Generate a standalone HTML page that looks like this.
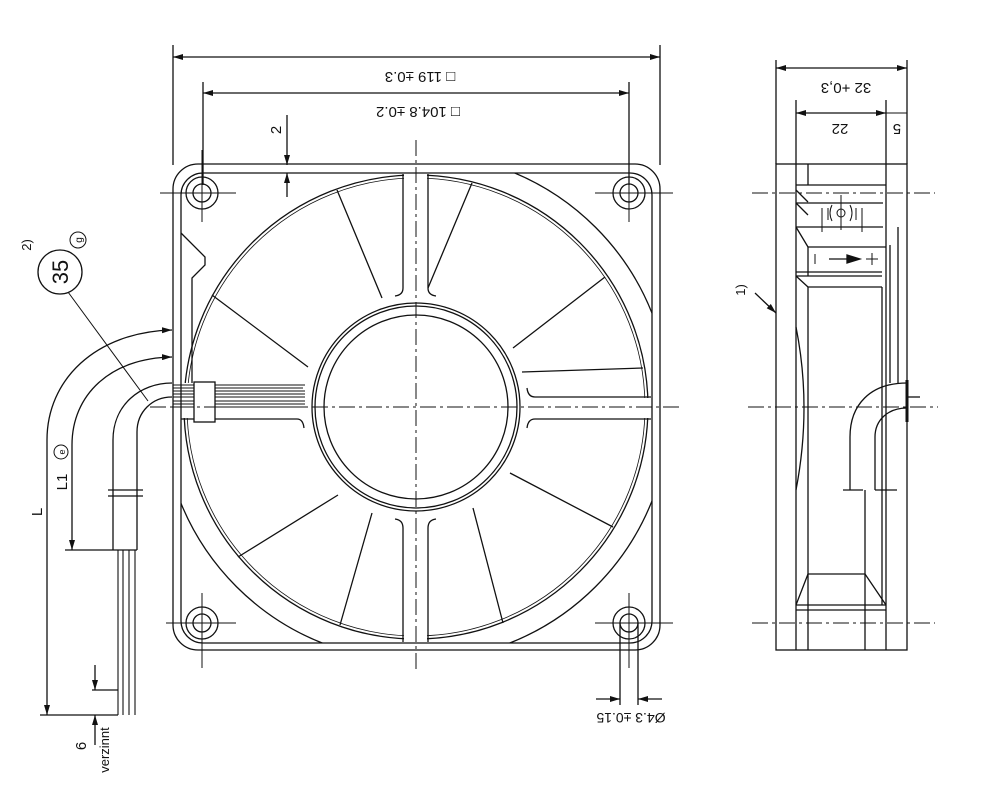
<!DOCTYPE html>
<html><head><meta charset="utf-8"><style>
html,body{margin:0;padding:0;background:#fff;}
svg{display:block;}
text{font-family:"Liberation Sans",sans-serif;fill:#111;}
</style></head><body>
<svg width="1000" height="787" viewBox="0 0 1000 787" xmlns="http://www.w3.org/2000/svg">
<defs>
<clipPath id="inner"><rect x="181" y="173" width="471" height="470" rx="22"/></clipPath>
<clipPath id="big"><path d="M416,173 H652 V643 H181 V407 H416 Z"/></clipPath>
<marker id="ar" viewBox="0 0 10 6" refX="10" refY="3" markerWidth="10" markerHeight="6" orient="auto-start-reverse" markerUnits="userSpaceOnUse"><path d="M0,0 L10,3 L0,6z" fill="#111"/></marker>
</defs>
<g fill="none" stroke="#111" stroke-width="1.3">
<!-- top dimensions -->
<line x1="173" y1="45" x2="173" y2="165"/><line x1="660" y1="45" x2="660" y2="165"/>
<line x1="173" y1="57" x2="660" y2="57" marker-start="url(#ar)" marker-end="url(#ar)"/>
<line x1="203" y1="82" x2="203" y2="185"/><line x1="629" y1="82" x2="629" y2="185"/>
<line x1="203" y1="93" x2="629" y2="93" marker-start="url(#ar)" marker-end="url(#ar)"/>
<line x1="287" y1="115" x2="287" y2="165" marker-end="url(#ar)"/>
<line x1="287" y1="197" x2="287" y2="173" marker-end="url(#ar)"/>
<!-- frame -->
<rect x="173" y="164" width="487" height="486" rx="25"/>
<rect x="181" y="173" width="471" height="470" rx="22"/>
<!-- venturi -->
<g clip-path="url(#inner)">
<g clip-path="url(#big)"><circle cx="416" cy="407" r="254"/></g>
<circle cx="416" cy="407" r="232"/>
<circle cx="416" cy="407" r="229" stroke-width="0.8"/>
</g>
<!-- strut masks -->
<g fill="#fff" stroke="none">
<rect x="404" y="174" width="23" height="125"/>
<rect x="404" y="515" width="23" height="127"/>
<rect x="530" y="398" width="121" height="20"/>
<rect x="182" y="383" width="125" height="35"/>
</g>
<!-- holes -->
<g>
<circle cx="202" cy="193" r="16"/><circle cx="202" cy="193" r="9"/>
<circle cx="629" cy="193" r="16"/><circle cx="629" cy="193" r="9"/>
<circle cx="202" cy="623" r="16"/><circle cx="202" cy="623" r="9"/>
<circle cx="629" cy="623" r="16"/><circle cx="629" cy="623" r="9"/>
</g>
<g stroke-width="1">
<line x1="160" y1="193" x2="236" y2="193"/><line x1="202" y1="150" x2="202" y2="222"/>
<line x1="595" y1="193" x2="673" y2="193"/><line x1="629" y1="150" x2="629" y2="222"/>
<line x1="166" y1="623" x2="236" y2="623"/><line x1="202" y1="593" x2="202" y2="668"/>
<line x1="595" y1="623" x2="673" y2="623"/><line x1="629" y1="593" x2="629" y2="668"/>
</g>
<!-- hub -->
<circle cx="416" cy="407" r="104" fill="#fff"/>
<circle cx="416" cy="407" r="101"/>
<circle cx="416" cy="407" r="92"/>
<!-- struts -->
<path d="M403,174 V288 Q403,295 395,296 M428,174 V288 Q428,295 436,296"/>
<path d="M403,642 V528 Q403,520 395,519 M428,642 V528 Q428,520 436,519"/>
<path d="M522,372 L643,368 M651,397 H535 Q528,397 527,388 M651,419 H535 Q528,419 527,428"/>
<path d="M181,419 H297 Q303,419 304,428"/>
<!-- blades -->
<path d="M337,190 L382,298 M212,295 L308,367 M472,183 L428,288 M605,277 L513,348 M510,473 L613,527 M473,508 L503,623 M372,513 L340,625 M338,495 L238,557"/>
<!-- left frame detail -->
<path d="M181,233 L205,257 L205,265 L192,278 L192,383"/>
<!-- cable on fan -->
<g stroke-width="1">
<line x1="173" y1="385" x2="305" y2="385"/><line x1="173" y1="388" x2="303" y2="388"/>
<line x1="173" y1="391" x2="305" y2="391"/><line x1="173" y1="394" x2="305" y2="394"/>
<line x1="173" y1="397" x2="305" y2="397"/><line x1="173" y1="401" x2="305" y2="401"/>
<line x1="173" y1="404" x2="305" y2="404"/><line x1="173" y1="407" x2="305" y2="407"/>
</g>
<rect x="194" y="382" width="21" height="40" fill="#fff"/>
<!-- center lines -->
<g stroke-width="1" stroke-dasharray="16 4 3 4">
<line x1="416" y1="140" x2="416" y2="672"/>
<line x1="150" y1="407" x2="682" y2="407"/>
<line x1="748" y1="407" x2="938" y2="407"/>
<line x1="752" y1="193" x2="935" y2="193"/>
<line x1="752" y1="623" x2="935" y2="623"/>
</g>
<!-- hole dim -->
<line x1="620" y1="623" x2="620" y2="705"/><line x1="638" y1="623" x2="638" y2="705"/>
<line x1="596" y1="699" x2="620" y2="699" marker-end="url(#ar)"/>
<line x1="662" y1="699" x2="638" y2="699" marker-end="url(#ar)"/>
<!-- left cable -->
<path d="M172,383 C140,383 113,405 113,440 V550"/>
<path d="M172,397 C152,397 137,412 137,432 V550"/>
<path d="M108,490 H143 M108,496 H143"/>
<line x1="65" y1="550" x2="137" y2="550"/>
<path d="M118,550 V715 M123,550 V715 M129,550 V715 M135,550 V715" stroke-width="1.1"/>
<path d="M47,715 V440 C47,380 95,332 172,330" marker-start="url(#ar)" marker-end="url(#ar)"/>
<path d="M72,550 V445 C72,395 110,358 172,357" marker-start="url(#ar)" marker-end="url(#ar)"/>
<line x1="40" y1="715" x2="118" y2="715"/><line x1="92" y1="690" x2="118" y2="690"/>
<line x1="95" y1="665" x2="95" y2="690" marker-end="url(#ar)"/>
<line x1="95" y1="745" x2="95" y2="715" marker-end="url(#ar)"/>
<circle cx="60" cy="272" r="22"/>
<circle cx="78" cy="240" r="8" stroke-width="1"/>
<circle cx="61" cy="452" r="7" stroke-width="1"/>
<line x1="68" y1="292" x2="148" y2="401" stroke-width="1"/>
<!-- side view -->
<line x1="776" y1="60" x2="776" y2="164"/><line x1="907" y1="60" x2="907" y2="164"/>
<line x1="776" y1="68" x2="907" y2="68" marker-start="url(#ar)" marker-end="url(#ar)"/>
<line x1="796" y1="100" x2="796" y2="164"/><line x1="886" y1="100" x2="886" y2="164"/>
<line x1="796" y1="113" x2="886" y2="113" marker-start="url(#ar)" marker-end="url(#ar)"/>
<line x1="886" y1="113" x2="907" y2="113" stroke-width="1"/>
<rect x="776" y="164" width="131" height="486"/>
<line x1="796" y1="164" x2="796" y2="650"/><line x1="886" y1="164" x2="886" y2="650"/>
<line x1="808" y1="164" x2="808" y2="185"/><line x1="808" y1="247" x2="808" y2="276"/>
<line x1="808" y1="287" x2="808" y2="650"/><line x1="865" y1="574" x2="865" y2="650"/>
<path d="M796,185 H886 M796,203 H883 M796,227 H883 M808,247 H886 M796,272 H882 M796,276 H882 M808,287 H882 M796,605 H886 M796,610 H886 M808,574 H865"/>
<path d="M796,190 L808,202 M796,203 L808,215 M796,227 L808,247 M796,276 L808,287 M808,574 L796,605 M865,574 L886,605"/>
<path d="M882,287 V605 M890,245 V383 M898,227 V383"/>
<path d="M796,327 Q812,407 796,490"/>
<path d="M907,383 C870,383 850,405 850,437 V490 M907,408 C888,408 875,420 875,437 V490 M843,490 H863 M875,490 H897 M865,490 V574"/>
<line x1="907" y1="380" x2="907" y2="422" stroke-width="3"/>
<line x1="907" y1="397" x2="920" y2="397"/>
<path d="M822,208 V232 M862,208 V232 M828,208 V220 M856,208 V220 M841,195 V230" stroke-width="1"/>
<circle cx="841" cy="213" r="4" stroke-width="1"/>
<path d="M832,205 Q828,213 832,221 M850,205 Q854,213 850,221" stroke-width="1"/>
<line x1="829" y1="259" x2="847" y2="259" stroke-width="1.3"/>
<path d="M847,255 L860,259 L847,263z" fill="#111"/>
<path d="M866,259 H878 M872,253 V265 M815,254 V264" stroke-width="1"/>
<line x1="755" y1="293" x2="776" y2="313" marker-end="url(#ar)"/>
</g>
<!-- texts -->
<g font-size="15">
<text transform="translate(420,72) rotate(180)" text-anchor="middle">□ 119 ±0.3</text>
<text transform="translate(418,107) rotate(180)" text-anchor="middle">□ 104.8 ±0.2</text>
<text transform="translate(281,130) rotate(-90)" text-anchor="middle">2</text>
<text transform="translate(631,713) rotate(180)" text-anchor="middle" font-size="14">Ø4.3 ±0.15</text>
<text transform="translate(846,83) rotate(180)" text-anchor="middle">32 +0,3</text>
<text transform="translate(840,124) rotate(180)" text-anchor="middle">22</text>
<text transform="translate(897,124) rotate(180)" text-anchor="middle">5</text>
<text transform="translate(745,290) rotate(-90)" text-anchor="middle" font-size="13">1)</text>
<text transform="translate(31,245) rotate(-90)" text-anchor="middle" font-size="13">2)</text>
<text transform="translate(68,272) rotate(-90)" text-anchor="middle" font-size="22">35</text>
<text transform="translate(82,240) rotate(-90)" text-anchor="middle" font-size="10">g</text>
<text transform="translate(65,452) rotate(-90)" text-anchor="middle" font-size="9">e</text>
<text transform="translate(67,482) rotate(-90)" text-anchor="middle">L1</text>
<text transform="translate(42,512) rotate(-90)" text-anchor="middle">L</text>
<text transform="translate(86,746) rotate(-90)" text-anchor="middle">6</text>
<text transform="translate(109,750) rotate(-90)" text-anchor="middle" font-size="13">verzinnt</text>
</g>
</svg>
</body></html>
